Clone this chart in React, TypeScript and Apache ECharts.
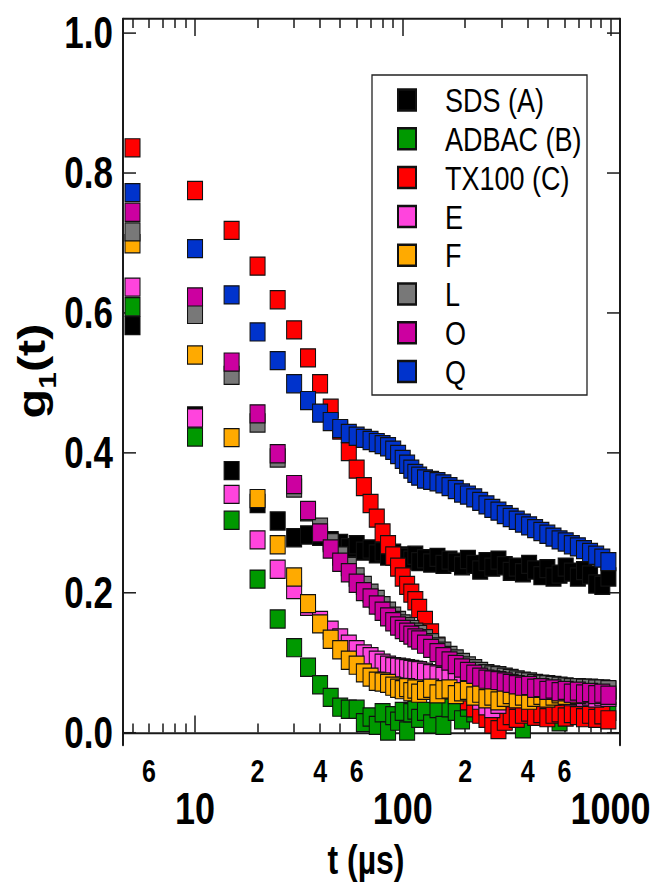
import React, { useEffect, useRef } from "react";
import * as echarts from "echarts";

// lag times (µs)
const tValues = [
  5, 10, 15, 20, 25, 30, 35, 40, 45, 50, 55, 60, 65, 70, 75, 80, 85, 90, 95, 100, 105, 110, 115, 120,
  128, 137, 147, 157, 168, 180, 193, 206, 221, 236, 253, 270, 289, 310, 331, 354, 379, 406, 434, 465,
  497, 532, 569, 609, 652, 697, 746, 798, 854, 914, 978,
];

const sdsA = [
  0.581, 0.452, 0.374, 0.327, 0.302, 0.278, 0.282, 0.28, 0.274, 0.27, 0.264, 0.268, 0.259, 0.262, 0.255, 0.258, 0.252, 0.256, 0.249, 0.252, 0.25, 0.246, 0.253, 0.244,
  0.248, 0.242, 0.25, 0.24, 0.246, 0.243, 0.238, 0.247, 0.24, 0.232, 0.244, 0.236, 0.246, 0.238, 0.23, 0.236, 0.228, 0.24, 0.232, 0.224,
  0.234, 0.222, 0.226, 0.236, 0.229, 0.222, 0.231, 0.225, 0.212, 0.21, 0.222,
];
const adbacB = [
  0.608, 0.422, 0.303, 0.219, 0.162, 0.121, 0.093, 0.068, 0.05, 0.036, 0.033, 0.033, 0.014, 0.022, 0.01, 0.028, 0.002, 0.024, 0.016, 0.03, 0.002, 0.028, 0.032, 0.02,
  0.03, 0.012, 0.034, 0.01, 0.035, 0.03, 0.018, 0.036, 0.028, 0.034, 0.04, 0.03, 0.012, 0.035, 0.038, 0.03, 0.005, 0.03, 0.036, 0.028,
  0.04, 0.032, 0.015, 0.034, 0.03, 0.036, 0.032, 0.03, 0.034, 0.028, 0.03,
];
const tx100C = [
  0.835, 0.774, 0.717, 0.666, 0.618, 0.575, 0.535, 0.498, 0.463, 0.432, 0.401, 0.376, 0.351, 0.327, 0.306, 0.285, 0.268, 0.252, 0.236, 0.222, 0.21, 0.199, 0.188, 0.177,
  0.16, 0.142, 0.123, 0.106, 0.089, 0.072, 0.058, 0.045, 0.035, 0.026, 0.02, 0.012, 0.004, 0.016, 0.024, 0.02, 0.026, 0.029, 0.023, 0.027,
  0.021, 0.026, 0.028, 0.022, 0.027, 0.024, 0.021, 0.026, 0.02, 0.025, 0.018,
];
const seriesE = [
  0.636, 0.449, 0.34, 0.275, 0.233, 0.204, 0.18, 0.16, 0.146, 0.135, 0.126, 0.118, 0.112, 0.108, 0.103, 0.099, 0.096, 0.094, 0.093, 0.092, 0.091, 0.09, 0.089, 0.088,
  0.086, 0.084, 0.082, 0.08, 0.078, 0.075, 0.07, 0.063, 0.055, 0.046, 0.038, 0.034, 0.04, 0.05, 0.056, 0.058, 0.055, 0.057, 0.054, 0.056,
  0.053, 0.055, 0.052, 0.054, 0.051, 0.053, 0.05, 0.052, 0.049, 0.051, 0.05,
];
const seriesF = [
  0.698, 0.539, 0.421, 0.334, 0.268, 0.222, 0.184, 0.155, 0.133, 0.118, 0.103, 0.096, 0.085, 0.079, 0.073, 0.072, 0.07, 0.066, 0.063, 0.061, 0.064, 0.058, 0.062, 0.056,
  0.06, 0.063, 0.055, 0.061, 0.062, 0.054, 0.058, 0.06, 0.052, 0.056, 0.048, 0.052, 0.045, 0.05, 0.054, 0.048, 0.052, 0.046, 0.05, 0.053,
  0.049, 0.052, 0.055, 0.053, 0.056, 0.054, 0.058, 0.056, 0.059, 0.06, 0.06,
];
const seriesL = [
  0.715, 0.597, 0.51, 0.442, 0.392, 0.349, 0.315, 0.293, 0.271, 0.252, 0.237, 0.222, 0.21, 0.199, 0.19, 0.181, 0.173, 0.166, 0.16, 0.155, 0.151, 0.147, 0.143, 0.14,
  0.134, 0.128, 0.122, 0.116, 0.11, 0.105, 0.1, 0.095, 0.091, 0.087, 0.084, 0.082, 0.081, 0.079, 0.077, 0.075, 0.073, 0.072, 0.07, 0.069,
  0.068, 0.067, 0.066, 0.065, 0.064, 0.064, 0.063, 0.063, 0.062, 0.062, 0.061,
];
const seriesO = [
  0.743, 0.622, 0.529, 0.455, 0.398, 0.354, 0.317, 0.285, 0.262, 0.243, 0.228, 0.213, 0.201, 0.192, 0.182, 0.173, 0.165, 0.158, 0.152, 0.147, 0.143, 0.139, 0.135, 0.132,
  0.126, 0.12, 0.114, 0.108, 0.102, 0.097, 0.092, 0.087, 0.083, 0.079, 0.076, 0.075, 0.074, 0.072, 0.07, 0.068, 0.066, 0.067, 0.063, 0.064,
  0.06, 0.062, 0.058, 0.06, 0.056, 0.059, 0.055, 0.057, 0.054, 0.056, 0.053,
];
const seriesQ = [
  0.771, 0.691, 0.625, 0.572, 0.531, 0.498, 0.474, 0.456, 0.444, 0.434, 0.427, 0.423, 0.42, 0.417, 0.414, 0.411, 0.408, 0.403, 0.397, 0.39, 0.383, 0.376, 0.37, 0.366,
  0.362, 0.36, 0.358, 0.355, 0.351, 0.347, 0.342, 0.339, 0.335, 0.33, 0.325, 0.32, 0.316, 0.311, 0.307, 0.303, 0.299, 0.295, 0.291, 0.287,
  0.283, 0.279, 0.275, 0.272, 0.268, 0.265, 0.261, 0.257, 0.253, 0.249, 0.244,
];

const seriesNames = ["SDS (A)", "ADBAC (B)", "TX100 (C)", "E", "F", "L", "O", "Q"];
const seriesColors = ["#000000", "#009900", "#ff0000", "#ff44dd", "#ffaa00", "#787878", "#cc00a0", "#0033cc"];
const seriesValues = [sdsA, adbacB, tx100C, seriesE, seriesF, seriesL, seriesO, seriesQ];

const yTicks = [0, 0.2, 0.4, 0.6, 0.8, 1.0];
const xMajorTicks = [10, 100, 1000];
const xMinorTicks = [5, 6, 7, 8, 9, 20, 30, 40, 50, 60, 70, 80, 90, 200, 300, 400, 500, 600, 700, 800, 900];
const xMinorLabels = [6, 20, 40, 60, 200, 400, 600];

const FONT = '"Liberation Sans", Arial, Helvetica, sans-serif';
const AXIS_COLOR = "#1a1a1a";

// The original figure is stretched vertically; the chart is drawn in a
// shorter box and scaled on Y to reproduce that look.
const PAGE_W = 654;
const PAGE_H = 882;
const BOX_H = 706;
const STRETCH = PAGE_H / BOX_H;

const X_MIN = 4.5;
const X_MAX = 1112;
const Y_MIN = -0.018;
const Y_MAX = 1.019;

function xAxisBase(position: string) {
  return {
    type: "log",
    logBase: 10,
    min: X_MIN,
    max: X_MAX,
    position,
    splitLine: { show: false },
    minorTick: { show: false },
    minorSplitLine: { show: false },
  };
}

export default function App() {
  const ref = useRef<HTMLDivElement>(null);

  useEffect(() => {
    if (!ref.current) return;
    const chart = echarts.init(ref.current, undefined, { renderer: "svg" });

    const series = seriesNames.map((name, i) => ({
      name,
      type: "scatter",
      xAxisIndex: 0,
      yAxisIndex: 0,
      symbol: "rect",
      symbolSize: [15, 14.5],
      data: tValues.map((t, k) => [t, seriesValues[i][k]]),
      itemStyle: { color: seriesColors[i], borderColor: "#111", borderWidth: 1, opacity: 1 },
      emphasis: { disabled: true },
      z: 2,
    }));

    const hLine = 2 / STRETCH;
    const hTick = 1.5 / STRETCH;

    const option: any = {
      animation: false,
      backgroundColor: "#ffffff",
      grid: { left: 123, right: 34, top: 19 / STRETCH, bottom: BOX_H - 745 / STRETCH, containLabel: false, outerBoundsMode: "none" },
      xAxis: [
        {
          ...xAxisBase("bottom"),
          axisLine: { show: true, lineStyle: { color: AXIS_COLOR, width: hLine } },
          axisTick: { show: true, inside: true, length: 17 / STRETCH, customValues: xMajorTicks, lineStyle: { color: AXIS_COLOR, width: 1.5 } },
          axisLabel: {
            show: true,
            customValues: xMajorTicks,
            formatter: (v: number) => String(Math.round(v)),
            fontFamily: FONT,
            fontWeight: "bold",
            fontSize: 36,
            color: "#000",
            margin: 33,
          },
        },
        {
          ...xAxisBase("bottom"),
          axisLine: { show: false },
          axisTick: { show: true, inside: true, length: 9 / STRETCH, customValues: xMinorTicks, lineStyle: { color: AXIS_COLOR, width: 1.5 } },
          axisLabel: {
            show: true,
            customValues: xMinorLabels,
            formatter: (v: number) => String(Math.round(v / Math.pow(10, Math.floor(Math.log10(v) + 1e-9)))),
            fontFamily: FONT,
            fontWeight: "bold",
            fontSize: 25,
            color: "#000",
            margin: 8,
          },
        },
        {
          ...xAxisBase("top"),
          axisLine: { show: true, lineStyle: { color: AXIS_COLOR, width: hLine } },
          axisTick: { show: true, inside: true, length: 17 / STRETCH, customValues: xMajorTicks, lineStyle: { color: AXIS_COLOR, width: 1.5 } },
          axisLabel: { show: false },
        },
        {
          ...xAxisBase("top"),
          axisLine: { show: false },
          axisTick: { show: true, inside: true, length: 9 / STRETCH, customValues: xMinorTicks, lineStyle: { color: AXIS_COLOR, width: 1.5 } },
          axisLabel: { show: false },
        },
      ],
      yAxis: [
        {
          type: "value",
          min: Y_MIN,
          max: Y_MAX,
          position: "left",
          splitLine: { show: false },
          axisLine: { show: true, lineStyle: { color: AXIS_COLOR, width: 2 } },
          axisTick: { show: true, inside: true, length: 13, customValues: yTicks, lineStyle: { color: AXIS_COLOR, width: hTick } },
          axisLabel: {
            show: true,
            customValues: yTicks,
            formatter: (v: number) => v.toFixed(1),
            fontFamily: FONT,
            fontWeight: "bold",
            fontSize: 35,
            color: "#000",
            margin: 10,
          },
        },
        {
          type: "value",
          min: Y_MIN,
          max: Y_MAX,
          position: "right",
          splitLine: { show: false },
          axisLine: { show: true, lineStyle: { color: AXIS_COLOR, width: 2 } },
          axisTick: { show: true, inside: true, length: 13, customValues: yTicks, lineStyle: { color: AXIS_COLOR, width: hTick } },
          axisLabel: { show: false },
        },
      ],
      legend: {
        data: seriesNames,
        orient: "vertical",
        left: 397,
        top: 100 / STRETCH - 13.5,
        padding: 0,
        itemWidth: 18,
        itemHeight: 21 / STRETCH,
        itemGap: 38.8 / STRETCH - 27,
        icon: "rect",
        selectedMode: false,
        textStyle: {
          fontFamily: FONT,
          fontSize: 27,
          lineHeight: 27,
          color: "#000",
          padding: [0, 0, 0, 24],
        },
        z: 5,
      },
      graphic: [
        {
          type: "rect",
          z: 3,
          shape: { x: 372, y: 75 / STRETCH, width: 215, height: 320 / STRETCH },
          style: { fill: "#ffffff", stroke: "#222", lineWidth: 1.3 },
        },
        {
          type: "text",
          x: 31,
          y: 371 / STRETCH,
          rotation: Math.PI / 2,
          style: {
            text: "{a|g}{b|1}{a|(t)}",
            align: "center",
            verticalAlign: "middle",
            fill: "#000",
            rich: {
              a: { fontFamily: FONT, fontWeight: "bold", fontSize: 39, lineHeight: 46, verticalAlign: "middle", fill: "#000" },
              b: { fontFamily: FONT, fontWeight: "bold", fontSize: 24, lineHeight: 58, verticalAlign: "bottom", fill: "#000" },
            },
          },
        },
        {
          type: "text",
          x: 366,
          y: 860 / STRETCH,
          style: {
            text: "t (µs)",
            align: "center",
            verticalAlign: "middle",
            fontFamily: FONT,
            fontWeight: "bold",
            fontSize: 32,
            fill: "#000",
          },
        },
      ],
      series,
    };

    chart.setOption(option);
    return () => chart.dispose();
  }, []);

  return (
    <div
      ref={ref}
      style={{
        position: "absolute",
        left: 0,
        top: 0,
        width: PAGE_W,
        height: BOX_H,
        transform: `scaleY(${STRETCH})`,
        transformOrigin: "0 0",
      }}
    />
  );
}
